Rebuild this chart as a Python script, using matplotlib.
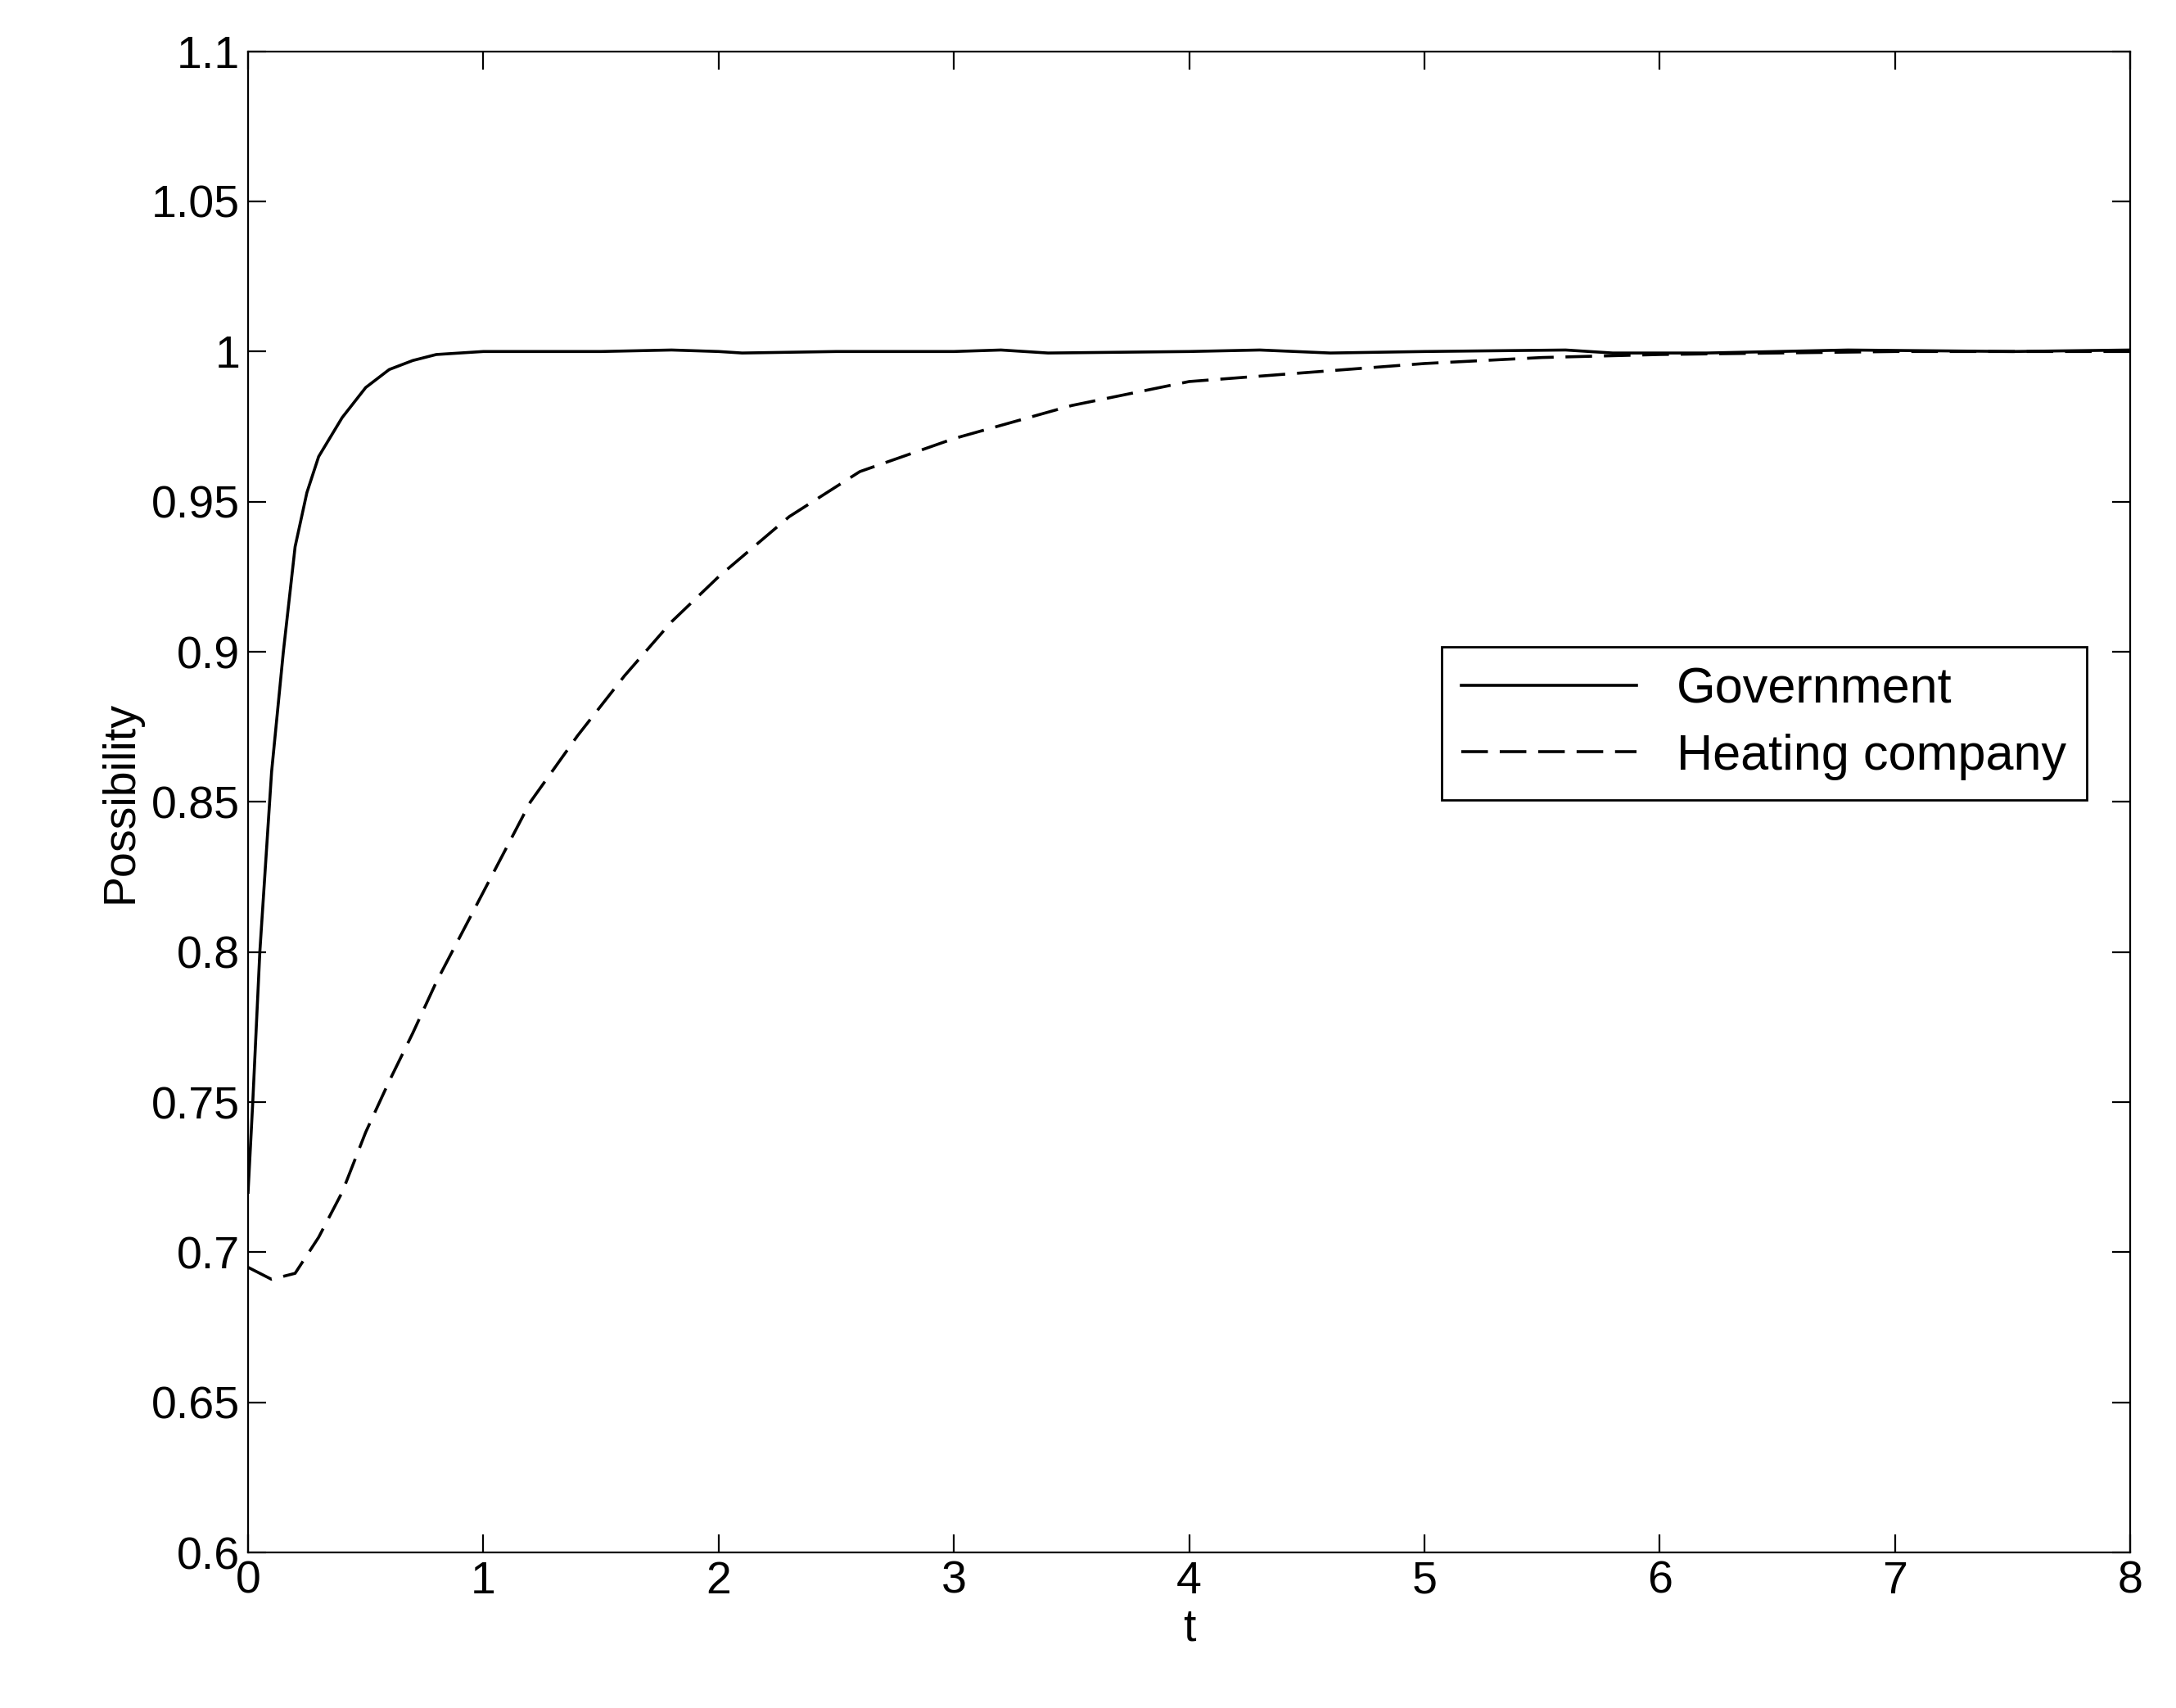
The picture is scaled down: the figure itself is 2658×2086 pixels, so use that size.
import numpy as np
import matplotlib
matplotlib.use('Agg')
import matplotlib.pyplot as plt

plt.rcParams['font.family'] = ['Liberation Sans', 'DejaVu Sans']

# values
t_gov = [0, 0.02, 0.05, 0.1, 0.15, 0.2, 0.25, 0.3, 0.4, 0.5, 0.6, 0.7, 0.8, 1.0, 1.5, 1.8, 2.0, 2.1, 2.5, 3.0, 3.2, 3.4, 4.0, 4.3, 4.6, 5.0, 5.6, 5.8, 6.2, 6.8, 7.5, 8.0]
y_gov = [0.72, 0.75, 0.80, 0.86, 0.90, 0.935, 0.953, 0.965, 0.978, 0.988, 0.994, 0.997, 0.999, 1.0, 1.0, 1.0005, 1.0, 0.9995, 1.0, 1.0, 1.0005, 0.9995, 1.0, 1.0005, 0.9995, 1.0, 1.0005, 0.9995, 0.9995, 1.0005, 1.0, 1.0005]
t_heat = [0, 0.1, 0.2, 0.3, 0.4, 0.5, 0.6, 0.7, 0.8, 1.0, 1.2, 1.4, 1.6, 1.8, 2.0, 2.3, 2.6, 3.0, 3.5, 4.0, 4.5, 5.0, 5.5, 6.0, 7.0, 8.0]
y_heat = [0.695, 0.691, 0.693, 0.705, 0.72, 0.74, 0.757, 0.773, 0.79, 0.82, 0.85, 0.872, 0.892, 0.91, 0.925, 0.945, 0.96, 0.971, 0.982, 0.99, 0.993, 0.996, 0.998, 0.999, 1.0, 1.0]

fig = plt.figure(figsize=(13.29, 10.43), dpi=200)
ax = fig.add_axes([0.114, 0.091, 0.865, 0.879])
ax.plot(t_gov, y_gov, 'k-', lw=1.3, label='Government')
ax.plot(t_heat, y_heat, 'k--', lw=1.3, dashes=(9, 4), label='Heating company')
ax.set_xlim(0, 8)
ax.set_ylim(0.6, 1.1)
ax.set_xticks(range(9))
ax.set_yticks(np.arange(0.6, 1.1001, 0.05))
ax.set_yticklabels(['0.6', '0.65', '0.7', '0.75', '0.8', '0.85', '0.9', '0.95', '1', '1.05', '1.1'])
ax.tick_params(direction='in', top=True, right=True, labelsize=20, length=8)
ax.set_xlabel('t', fontsize=20, labelpad=2)
ax.set_ylabel('Possibility', fontsize=20)
ax.legend(loc='upper right', bbox_to_anchor=(0.99, 0.62), fontsize=22,
          fancybox=False, edgecolor='k', framealpha=1, handlelength=3.5,
          borderpad=0.4, labelspacing=0.4)
fig.savefig('out.png')
